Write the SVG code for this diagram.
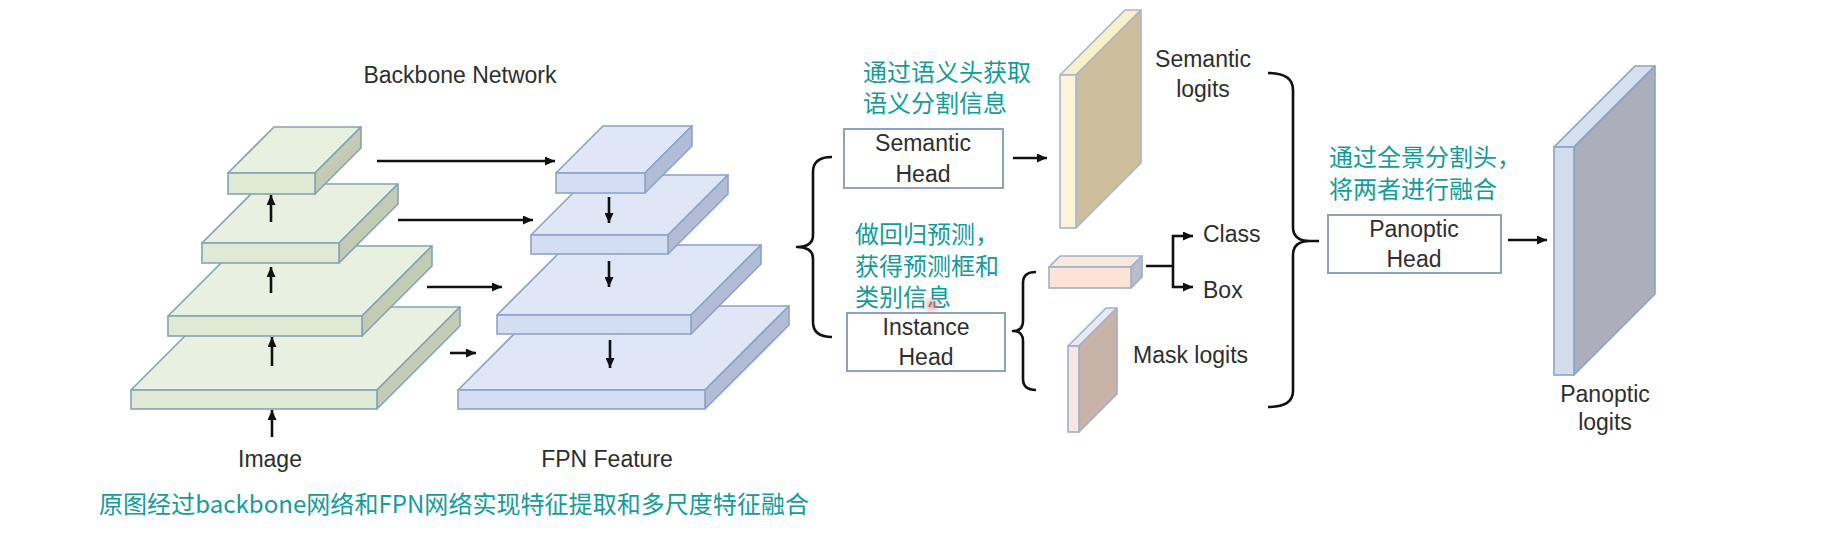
<svg xmlns="http://www.w3.org/2000/svg" width="1833" height="539" viewBox="0 0 1833 539">
<style>
.lbl{font-family:"Liberation Sans",Arial,sans-serif;font-size:23px;fill:#2e2e2e}
.mid{text-anchor:middle}
.cn{font-family:"Noto Sans CJK SC","Noto Sans",sans-serif;font-size:24px;fill:#139c9a}
.gT{fill:#e8f0df;stroke:#86a3b5;stroke-width:1.6;stroke-linejoin:round}
.gF{fill:#dfe9d3;stroke:#86a3b5;stroke-width:1.6}
.gR{fill:#c3cbb4;stroke:#86a3b5;stroke-width:1.6;stroke-linejoin:round}
.bT{fill:#dfe6f5;stroke:#8ca3c7;stroke-width:1.6;stroke-linejoin:round}
.bF{fill:#d4def2;stroke:#8ca3c7;stroke-width:1.6}
.bR{fill:#b3bcd6;stroke:#8ca3c7;stroke-width:1.6;stroke-linejoin:round}
.box{fill:#fff;stroke:#8fa3c0;stroke-width:2}
.ln{fill:none;stroke:#111;stroke-width:2.6}
.arr{fill:none;stroke:#111;stroke-width:2.6;marker-end:url(#ah)}
.br{fill:none;stroke:#111;stroke-width:2.6;stroke-linejoin:round}
</style>
<defs>
<marker id="ah" markerUnits="userSpaceOnUse" markerWidth="10" markerHeight="9" refX="10" refY="4.5" orient="auto">
<path d="M0,0 L10,4.5 L0,9 z" fill="#111"/>
</marker>
<filter id="blur"><feGaussianBlur stdDeviation="3"/></filter>
</defs>
<rect width="1833" height="539" fill="#fff"/>

<g id="backbone">
<polygon class="gT" points="131,390 214,307 460,307 377,390"/>
<polygon class="gR" points="377,390 460,307 460,326 377,409"/>
<rect class="gF" x="131" y="390" width="246" height="19"/>
<polygon class="gT" points="168,316 238,246 432,246 362,316"/>
<polygon class="gR" points="362,316 432,246 432,266 362,336"/>
<rect class="gF" x="168" y="316" width="194" height="20"/>
<polygon class="gT" points="202,243 261,184 398,184 339,243"/>
<polygon class="gR" points="339,243 398,184 398,204 339,263"/>
<rect class="gF" x="202" y="243" width="137" height="20"/>
<polygon class="gT" points="228,173 274,127 361,127 315,173"/>
<polygon class="gR" points="315,173 361,127 361,148 315,194"/>
<rect class="gF" x="228" y="173" width="87" height="21"/>
<text class="lbl mid" x="460" y="83">Backbone Network</text>
<text class="lbl mid" x="270" y="467">Image</text>
</g>

<g id="fpn">
<polygon class="bT" points="458,390 542,306 789,306 705,390"/>
<polygon class="bR" points="705,390 789,306 789,325 705,409"/>
<rect class="bF" x="458" y="390" width="247" height="19"/>
<polygon class="bT" points="497,315 567,245 761,245 691,315"/>
<polygon class="bR" points="691,315 761,245 761,264 691,334"/>
<rect class="bF" x="497" y="315" width="194" height="19"/>
<polygon class="bT" points="531,235 591,175 728,175 668,235"/>
<polygon class="bR" points="668,235 728,175 728,194 668,254"/>
<rect class="bF" x="531" y="235" width="137" height="19"/>
<polygon class="bT" points="556,173 603,126 692,126 645,173"/>
<polygon class="bR" points="645,173 692,126 692,146 645,193"/>
<rect class="bF" x="556" y="173" width="89" height="20"/>
<text class="lbl mid" x="607" y="467">FPN Feature</text>
</g>

<g id="semantic-head">
<rect class="box" x="844" y="129" width="159" height="59"/>
<text class="lbl mid" x="923" y="151">Semantic</text>
<text class="lbl mid" x="923" y="182">Head</text>
</g>

<g id="instance-head">
<rect class="box" x="847" y="313" width="158" height="58"/>
<text class="lbl mid" x="926" y="335">Instance</text>
<text class="lbl mid" x="926" y="365">Head</text>
</g>

<g id="semantic-logits">
<polygon points="1060,75 1125,10 1141,10 1076,75" fill="#f8efcd" stroke="#aab6c9" stroke-width="1.6" stroke-linejoin="round"/>
<polygon points="1076,75 1141,10 1141,163 1076,228" fill="#cdbf9b" stroke="#aab6c9" stroke-width="1.6" stroke-linejoin="round"/>
<rect x="1060" y="75" width="16" height="153" fill="#fcf4d6" stroke="#aab6c9" stroke-width="1.6"/>
<text class="lbl mid" x="1203" y="67">Semantic</text>
<text class="lbl mid" x="1203" y="97">logits</text>
</g>

<g id="class-box">
<polygon points="1049,267 1060,256 1142,256 1131,267" fill="#fae8df" stroke="#9fb0c9" stroke-width="1.6" stroke-linejoin="round"/>
<polygon points="1131,267 1142,256 1142,277 1131,288" fill="#b9bccc" stroke="#9fb0c9" stroke-width="1.6" stroke-linejoin="round"/>
<rect x="1049" y="267" width="82" height="21" fill="#fbe3d8" stroke="#9fb0c9" stroke-width="1.6"/>
<text class="lbl" x="1203" y="242">Class</text>
<text class="lbl" x="1203" y="298">Box</text>
</g>

<g id="mask-logits">
<polygon points="1068,346 1106,308 1117,308 1079,346" fill="#e6e9f2" stroke="#9fb0c9" stroke-width="1.6" stroke-linejoin="round"/>
<polygon points="1079,346 1117,308 1117,394 1079,432" fill="#c7b3a7" stroke="#9fb0c9" stroke-width="1.6" stroke-linejoin="round"/>
<rect x="1068" y="346" width="11" height="86" fill="#f9e6e0" stroke="#9fb0c9" stroke-width="1.6"/>
<text class="lbl" x="1133" y="363">Mask logits</text>
</g>

<g id="panoptic-head">
<rect class="box" x="1328" y="215" width="173" height="58"/>
<text class="lbl mid" x="1414" y="237">Panoptic</text>
<text class="lbl mid" x="1414" y="267">Head</text>
</g>

<g id="panoptic-logits">
<polygon points="1554,147 1635,66 1655,66 1574,147" fill="#d6dfee" stroke="#8aa3c6" stroke-width="1.6" stroke-linejoin="round"/>
<polygon points="1574,147 1655,66 1655,294 1574,375" fill="#acafbb" stroke="#8aa3c6" stroke-width="1.6" stroke-linejoin="round"/>
<rect x="1554" y="147" width="20" height="228" fill="#d3dcec" stroke="#8aa3c6" stroke-width="1.6"/>
<text class="lbl mid" x="1605" y="402">Panoptic</text>
<text class="lbl mid" x="1605" y="430">logits</text>
</g>

<g id="connectors">
<line class="arr" x1="271" y1="222" x2="271" y2="195"/>
<line class="arr" x1="271" y1="293" x2="271" y2="267"/>
<line class="arr" x1="272" y1="366" x2="272" y2="337"/>
<line class="arr" x1="272" y1="437" x2="272" y2="410"/>
<line class="arr" x1="609" y1="197" x2="609" y2="223"/>
<line class="arr" x1="609" y1="261" x2="609" y2="287"/>
<line class="arr" x1="610" y1="340" x2="610" y2="368"/>
<line class="arr" x1="377" y1="161" x2="555" y2="161"/>
<line class="arr" x1="398" y1="220" x2="533" y2="220"/>
<line class="arr" x1="427" y1="287" x2="502" y2="287"/>
<line class="arr" x1="450" y1="353" x2="476" y2="353"/>
<path class="br" d="M832,157 Q813,157 813,172 L813,235 Q813,247 797,247 Q813,247 813,259 L813,322 Q813,337 832,337"/>
<line class="arr" x1="1013" y1="158" x2="1047" y2="158"/>
<path class="br" d="M1036,272 Q1023,272 1023,283 L1023,321 Q1023,331 1013,331 Q1023,331 1023,341 L1023,379 Q1023,390 1036,390"/>
<path class="ln" d="M1146,266 H1173 M1173,235 V288"/>
<line class="arr" x1="1172" y1="236" x2="1193" y2="236"/>
<line class="arr" x1="1172" y1="287" x2="1193" y2="287"/>
<path class="br" d="M1268,73 Q1293,73 1293,90 L1293,227 Q1293,241 1310,241 L1319,241 M1310,241 Q1293,241 1293,255 L1293,391 Q1293,407 1268,407"/>
<line class="arr" x1="1508" y1="240" x2="1547" y2="240"/>
</g>

<g id="notes">
<text class="cn" x="863" y="81">通过语义头获取</text>
<text class="cn" x="863" y="112">语义分割信息</text>
<text class="cn" x="855" y="243">做回归预测，</text>
<text class="cn" x="855" y="275">获得预测框和</text>
<text class="cn" x="855" y="306">类别信息</text>
<text class="cn" x="1329" y="166">通过全景分割头，</text>
<text class="cn" x="1329" y="198">将两者进行融合</text>
<text class="cn" x="99" y="513" textLength="710" lengthAdjust="spacing">原图经过backbone网络和FPN网络实现特征提取和多尺度特征融合</text>
<circle cx="932" cy="305" r="6" fill="#f06060" opacity="0.55" filter="url(#blur)"/>
</g>
</svg>
